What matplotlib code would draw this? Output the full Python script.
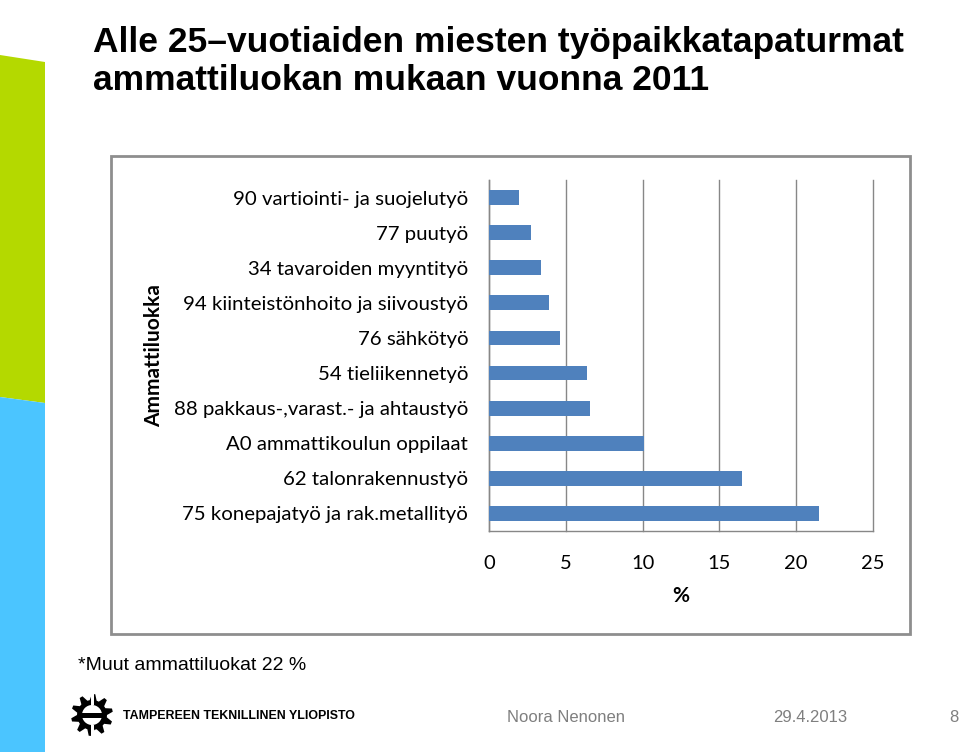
import numpy as np
import matplotlib
matplotlib.use("Agg")
import matplotlib.pyplot as plt
from matplotlib.patches import Polygon, Rectangle, Circle

# data (bottom -> top)
ammatit = ["75 konepajatyö ja rak.metallityö", "62 talonrakennustyö",
           "A0 ammattikoulun oppilaat", "88 pakkaus-,varast.- ja ahtaustyö",
           "54 tieliikennetyö", "76 sähkötyö",
           "94 kiinteistönhoito ja siivoustyö", "34 tavaroiden myyntityö",
           "77 puutyö", "90 vartiointi- ja suojelutyö"]
osuus = [21.5, 16.5, 10.07, 6.6, 6.37, 4.6, 3.9, 3.4, 2.76, 1.96]
x_ticks = [0, 5, 10, 15, 20, 25]

otsikko1 = "Alle 25\u2013vuotiaiden miesten työpaikkatapaturmat"
otsikko2 = "ammattiluokan mukaan vuonna 2011"
alaviite = "*Muut ammattiluokat 22 %"

W, H = 960, 752
fig = plt.figure(figsize=(W / 100, H / 100), dpi=100)
fig.patch.set_facecolor("white")

# taustakerros pikseleinä
bg = fig.add_axes([0, 0, 1, 1])
bg.set_xlim(0, W)
bg.set_ylim(H, 0)
bg.axis("off")

bg.add_patch(Polygon([(0, 55), (45, 62), (45, 403), (0, 397)], closed=True,
                     facecolor="#b4d900", edgecolor="none"))
bg.add_patch(Polygon([(0, 397), (45, 403), (45, 752), (0, 752)], closed=True,
                     facecolor="#4bc5ff", edgecolor="none"))

# kaavion kehys
bg.add_patch(Rectangle((111, 156), 799, 478, facecolor="none",
                       edgecolor="#8e8e8e", linewidth=2))

bg.text(93, 52, otsikko1, fontsize=25.5, fontweight="bold",
        family="Liberation Sans", va="baseline", ha="left")
bg.text(93, 90, otsikko2, fontsize=25.5, fontweight="bold",
        family="Liberation Sans", va="baseline", ha="left")

bg.text(78, 665, alaviite, fontsize=14, family="Liberation Sans",
        va="center", ha="left", color="black")

# logo (hammasratas)
cx, cy = 92, 715
n = 10
pts = []
for i in range(n * 4):
    a = 2 * np.pi * i / (n * 4) + np.pi / n / 2
    r = 21 if (i % 4) in (1, 2) else 15
    pts.append((cx + r * np.cos(a), cy + r * np.sin(a)))
bg.add_patch(Polygon(pts, closed=True, facecolor="black", edgecolor="none"))
bg.add_patch(Circle((cx, cy), 10, facecolor="white", edgecolor="none"))
bg.add_patch(Rectangle((cx - 11, cy - 2.5), 22, 5, facecolor="black",
                       edgecolor="none"))
bg.add_patch(Rectangle((cx - 1.5, cy - 23), 3, 13, facecolor="white",
                       edgecolor="none"))
bg.add_patch(Rectangle((cx - 1.5, cy + 10), 3, 13, facecolor="white",
                       edgecolor="none"))

bg.text(123, 716, "TAMPEREEN TEKNILLINEN YLIOPISTO", fontsize=8.9,
        fontweight="bold", family="Liberation Sans", va="center",
        ha="left", color="black")

bg.text(507, 718, "Noora Nenonen", fontsize=12, family="Liberation Sans",
        va="center", ha="left", color="#7f7f7f")
bg.text(773, 718, "29.4.2013", fontsize=12, family="Liberation Sans",
        va="center", ha="left", color="#7f7f7f")
bg.text(949, 718, "8", fontsize=12, family="Liberation Sans",
        va="center", ha="left", color="#7f7f7f")

# itse kaavio
ax = fig.add_axes([489 / W, 1 - 531 / H, 384 / W, 351 / H])
y = np.arange(len(ammatit))
ax.barh(y, osuus, height=0.42, color="#4f81bd", zorder=3)
ax.set_xlim(0, 25)
ax.set_ylim(-0.5, 9.5)
ax.set_xticks(x_ticks)
ax.set_xticklabels([str(t) for t in x_ticks], fontsize=14.5, family="Lato")
ax.set_yticks(y)
ax.set_yticklabels(ammatit, fontsize=14.7, family="Lato")
ax.tick_params(axis="both", length=0)
ax.tick_params(axis="y", pad=15)
ax.tick_params(axis="x", pad=17)
ax.grid(axis="x", color="#878787", linewidth=1, zorder=0)
for gl in ax.get_xgridlines():
    gl.set_clip_on(False)
for s in ["top", "right"]:
    ax.spines[s].set_visible(False)
for s in ["left", "bottom"]:
    ax.spines[s].set_color("#878787")
    ax.spines[s].set_linewidth(1)
ax.set_xlabel("%", fontsize=15, fontweight="bold", family="Lato", labelpad=10)
ax.set_ylabel("Ammattiluokka", fontsize=15, fontweight="bold", family="Lato")
ax.yaxis.set_label_coords(-0.845, 0.5)

fig.savefig("out.png", dpi=100)
